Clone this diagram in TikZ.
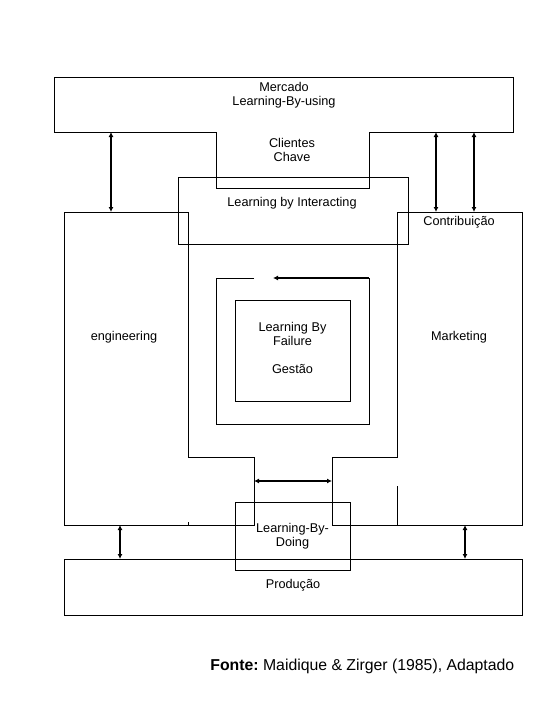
\documentclass[tikz,border=0pt]{standalone}
\usepackage{fontspec}
\setmainfont{Liberation Sans}
\usetikzlibrary{arrows.meta}
\begin{document}
\begin{tikzpicture}[x=1pt,y=-1pt,line width=0.8pt,
  lbl/.style={font=\fontsize{12.7}{14.5}\selectfont,align=center,inner sep=0pt},
  dblarrow/.style={line width=1.4pt,{Latex[length=5pt,width=5pt]}-{Latex[length=5pt,width=5pt]}},
  onearrow/.style={line width=1.4pt,-{Latex[length=5pt,width=5pt]}}]
\useasboundingbox (0,0) rectangle (540,720);
% Mercado shape
\draw (54,77) -- (513,77) -- (513,132) -- (369,132) -- (369,188) -- (216,188) -- (216,132) -- (54,132) -- cycle;
\node[lbl] (mercado) at (284,95) {Mercado\\Learning-By-using};
\node[lbl] (clientes) at (292,150) {Clientes\\Chave};
% Learning by Interacting
\draw (178,177) rectangle (408,244);
\node[lbl] (lbi) at (292,203) {Learning by Interacting};
% engineering block + middle frame + marketing block
\draw (188,212) -- (64,212) -- (64,525) -- (254,525) -- (254,457) -- (188,457) -- (188,212);
\draw (188,522) -- (188,525);
\draw (397,212) -- (522,212) -- (522,525) -- (332,525) -- (332,457) -- (397,457) -- (397,212);
\draw (397,486) -- (397,525);
\node[lbl] (eng) at (124,337) {engineering};
\node[lbl] (mkt) at (459,337) {Marketing};
\node[lbl] (contrib) at (459,222) {Contribuição};
% spiral
\draw (254,278) -- (216,278) -- (216,424) -- (369,424) -- (369,278);
\coordinate (spA) at (369,278);
\coordinate (spB) at (273,278);
\draw[onearrow] (spA) -- (spB);
\draw (235,300) rectangle (350,401);
\node[lbl] (lbf) at (292.5,334) {Learning By\\Failure};
\node[lbl] (gestao) at (292.5,369) {Gestão};
% Learning-By-Doing
\draw (235,502) rectangle (350,570);
\node[lbl] (lbd) at (292.5,536) {Learning-By-\\Doing};
% Producao
\draw (64,559) rectangle (522,615);
\node[lbl] (prod) at (293,585) {Produção};
% arrows
\coordinate (a1t) at (111,132); \coordinate (a1b) at (111,212);
\coordinate (a2t) at (436,132); \coordinate (a2b) at (436,212);
\coordinate (a3t) at (474,132); \coordinate (a3b) at (474,212);
\coordinate (b1t) at (120,525); \coordinate (b1b) at (120,559);
\coordinate (b2t) at (465,525); \coordinate (b2b) at (465,559);
\coordinate (hL) at (254,481); \coordinate (hR) at (332,481);
\draw[dblarrow] (a1t) -- (a1b);
\draw[dblarrow] (a2t) -- (a2b);
\draw[dblarrow] (a3t) -- (a3b);
\draw[dblarrow] (b1t) -- (b1b);
\draw[dblarrow] (b2t) -- (b2b);
\draw[dblarrow] (hL) -- (hR);
% source
\node[font=\fontsize{15.8}{18}\selectfont,inner sep=0pt,anchor=west] (fonte) at (210,666) {\textbf{Fonte:}~Maidique \& Zirger (1985), Adaptado};
\end{tikzpicture}
\end{document}
